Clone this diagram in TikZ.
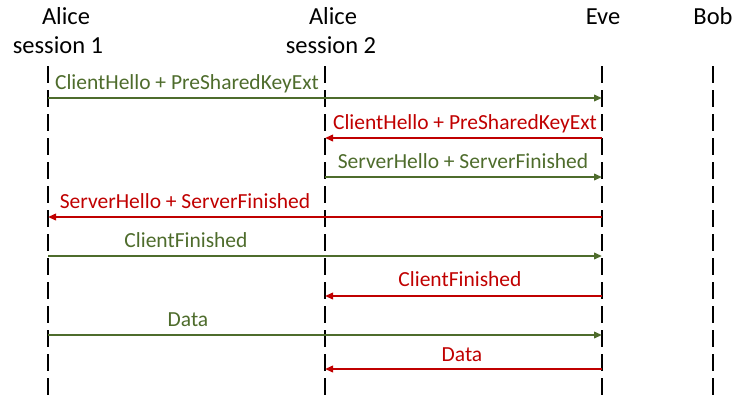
\documentclass[tikz,border=0pt]{standalone}
\usepackage{fontspec}
\setmainfont{Carlito}
\usetikzlibrary{arrows.meta}
\definecolor{okgreen}{RGB}{78,108,44}
\definecolor{attackred}{RGB}{192,0,0}
\tikzset{
  lifeline/.style={line width=2.6pt, dash pattern=on 17pt off 7pt},
  header/.style={font=\fontsize{24.5}{30}\selectfont, inner sep=0pt, anchor=base},
  msg/.style={line width=2.2pt, -{Triangle[length=8pt,width=6.5pt]}},
  okmsg/.style={msg, draw=okgreen},
  badmsg/.style={msg, draw=attackred},
  lbl/.style={font=\fontsize{21.5}{24}\selectfont, inner sep=0pt, anchor=base},
}
\begin{document}
\begin{tikzpicture}[x=1pt,y=-1pt]
\useasboundingbox (0,0) rectangle (733,400);
% participants
\node[header] (h1) at (66,24) {Alice};
\node[header] (h1s) at (58,53) {session 1};
\node[header] (h2) at (333,24) {Alice};
\node[header] (h2s) at (331,53) {session 2};
\node[header] (h3) at (603,24) {Eve};
\node[header] (h4) at (713,24) {Bob};
% lifelines
\coordinate (a1) at (48,66);   \coordinate (a1b) at (48,400);
\coordinate (a2) at (325,66);  \coordinate (a2b) at (325,400);
\coordinate (ev) at (602,66);  \coordinate (evb) at (602,400);
\coordinate (bo) at (713,66);  \coordinate (bob) at (713,400);
\draw[lifeline] (a1) -- (a1b);
\draw[lifeline] (a2) -- (a2b);
\draw[lifeline] (ev) -- (evb);
\draw[lifeline] (bo) -- (bob);
% messages
\draw[okmsg] (a1 |- 0,98) -- (ev |- 0,98);
\node[lbl, text=okgreen] (m1) at (187,89) {ClientHello + PreSharedKeyExt};
\draw[badmsg] (ev |- 0,138) -- (a2 |- 0,138);
\node[lbl, text=attackred] (m2) at (465,129) {ClientHello + PreSharedKeyExt};
\draw[okmsg] (a2 |- 0,177) -- (ev |- 0,177);
\node[lbl, text=okgreen] (m3) at (463,168) {ServerHello + ServerFinished};
\draw[badmsg] (ev |- 0,217) -- (a1 |- 0,217);
\node[lbl, text=attackred] (m4) at (185,208) {ServerHello + ServerFinished};
\draw[okmsg] (a1 |- 0,256) -- (ev |- 0,256);
\node[lbl, text=okgreen] (m5) at (186,247) {ClientFinished};
\draw[badmsg] (ev |- 0,296) -- (a2 |- 0,296);
\node[lbl, text=attackred] (m6) at (460,286) {ClientFinished};
\draw[okmsg] (a1 |- 0,335) -- (ev |- 0,335);
\node[lbl, text=okgreen] (m7) at (188,326) {Data};
\draw[badmsg] (ev |- 0,369) -- (a2 |- 0,369);
\node[lbl, text=attackred] (m8) at (462,361) {Data};
\end{tikzpicture}
\end{document}
